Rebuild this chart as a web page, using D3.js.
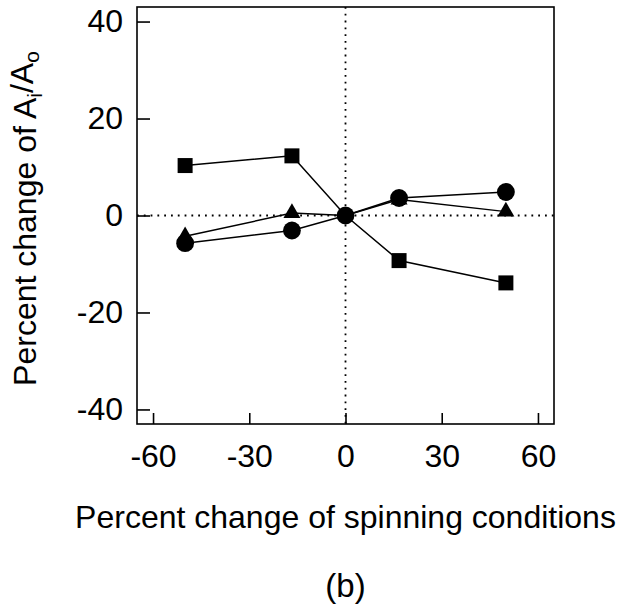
<!DOCTYPE html>
<html>
<head>
<meta charset="utf-8">
<script src="https://cdn.jsdelivr.net/npm/d3@7"></script>
<style>
  body { margin: 0; background: #fff; }
  svg text { font-family: "Liberation Sans", Arial, Helvetica, sans-serif; fill: #000; }
</style>
</head>
<body>
<div class="chart"></div>
<script>
// percent change of spinning conditions
const xValues = [-50, -16.7, 0, 16.7, 50];

// percent change of Ai/Ao, one list per marker
const squareValues = [10.3, 12.3, 0, -9.3, -13.9];
const triangleValues = [-4.3, 0.5, 0, 3.3, 0.8];
const circleValues = [-5.7, -3.1, 0, 3.6, 4.85];

const xTicks = [-60, -30, 0, 30, 60];
const yTicks = [-40, -20, 0, 20, 40];

const width = 622;
const height = 605;
const box = { left: 137, right: 554, top: 7, bottom: 424 };
const fontSize = 32;

const svg = d3
  .select(".chart")
  .append("svg")
  .attr("width", width)
  .attr("height", height);

const x = d3.scaleLinear().domain([-65, 65]).range([box.left, box.right]);
const y = d3.scaleLinear().domain([-43, 43]).range([box.bottom, box.top]);

// dotted zero lines
svg
  .append("g")
  .attr("stroke", "#000")
  .attr("stroke-width", 1.8)
  .attr("stroke-dasharray", "1.8,5")
  .call((g) =>
    g
      .append("line")
      .attr("x1", box.left)
      .attr("x2", box.right)
      .attr("y1", y(0))
      .attr("y2", y(0))
  )
  .call((g) =>
    g
      .append("line")
      .attr("x1", x(0))
      .attr("x2", x(0))
      .attr("y1", box.top)
      .attr("y2", box.bottom)
  );

// frame
svg
  .append("rect")
  .attr("x", box.left)
  .attr("y", box.top)
  .attr("width", box.right - box.left)
  .attr("height", box.bottom - box.top)
  .attr("fill", "none")
  .attr("stroke", "#000")
  .attr("stroke-width", 1.6);

// axes with inward ticks, plain hyphen for negatives
const fmt = (d) => String(d);
const xAxis = svg
  .append("g")
  .attr("transform", `translate(0,${box.bottom})`)
  .call(d3.axisBottom(x).tickValues(xTicks).tickFormat(fmt).tickSizeInner(-11).tickSizeOuter(0).tickPadding(20));
const yAxis = svg
  .append("g")
  .attr("transform", `translate(${box.left},0)`)
  .call(d3.axisLeft(y).tickValues(yTicks).tickFormat(fmt).tickSizeInner(-13).tickSizeOuter(0).tickPadding(14));

[xAxis, yAxis].forEach((g) => {
  g.select(".domain").remove();
  g.selectAll(".tick line").attr("stroke", "#000").attr("stroke-width", 1.6);
  g.selectAll(".tick text")
    .attr("font-size", fontSize)
    .attr("font-family", '"Liberation Sans", Arial, Helvetica, sans-serif')
    .attr("fill", "#000");
});

// series; the shared origin is shown with the circle only
const series = [
  { values: triangleValues, symbol: d3.symbolTriangle, size: 125, origin: false },
  { values: squareValues, symbol: d3.symbolSquare, size: 225, origin: false },
  { values: circleValues, symbol: d3.symbolCircle, size: 250, origin: true },
];

const line = d3
  .line()
  .x((d) => x(d[0]))
  .y((d) => y(d[1]));

series.forEach((s) => {
  const pts = xValues.map((v, i) => [v, s.values[i]]);
  svg
    .append("path")
    .attr("d", line(pts))
    .attr("fill", "none")
    .attr("stroke", "#000")
    .attr("stroke-width", 1.5);
});

series.forEach((s) => {
  const pts = xValues
    .map((v, i) => [v, s.values[i]])
    .filter((d) => s.origin || d[0] !== 0);
  svg
    .append("g")
    .selectAll("path")
    .data(pts)
    .join("path")
    .attr("transform", (d) => `translate(${x(d[0])},${y(d[1])})`)
    .attr("d", d3.symbol().type(s.symbol).size(s.size))
    .attr("fill", "#000");
});

// axis titles
svg
  .append("text")
  .attr("x", (box.left + box.right) / 2)
  .attr("y", 528)
  .attr("text-anchor", "middle")
  .attr("font-size", fontSize)
  .text("Percent change of spinning conditions");

const yTitle = svg
  .append("text")
  .attr("transform", `translate(36,${(box.top + box.bottom) / 2 + 3}) rotate(-90)`)
  .attr("text-anchor", "middle")
  .attr("font-size", fontSize);
yTitle.append("tspan").text("Percent change of A");
yTitle.append("tspan").attr("font-size", 21).attr("dy", "0.3em").text("i");
yTitle.append("tspan").attr("dy", "-0.3em").text("/A");
yTitle.append("tspan").attr("font-size", 21).attr("dy", "0.3em").text("o");

svg
  .append("text")
  .attr("x", (box.left + box.right) / 2)
  .attr("y", 597)
  .attr("text-anchor", "middle")
  .attr("font-size", 33)
  .text("(b)");
</script>
</body>
</html>
